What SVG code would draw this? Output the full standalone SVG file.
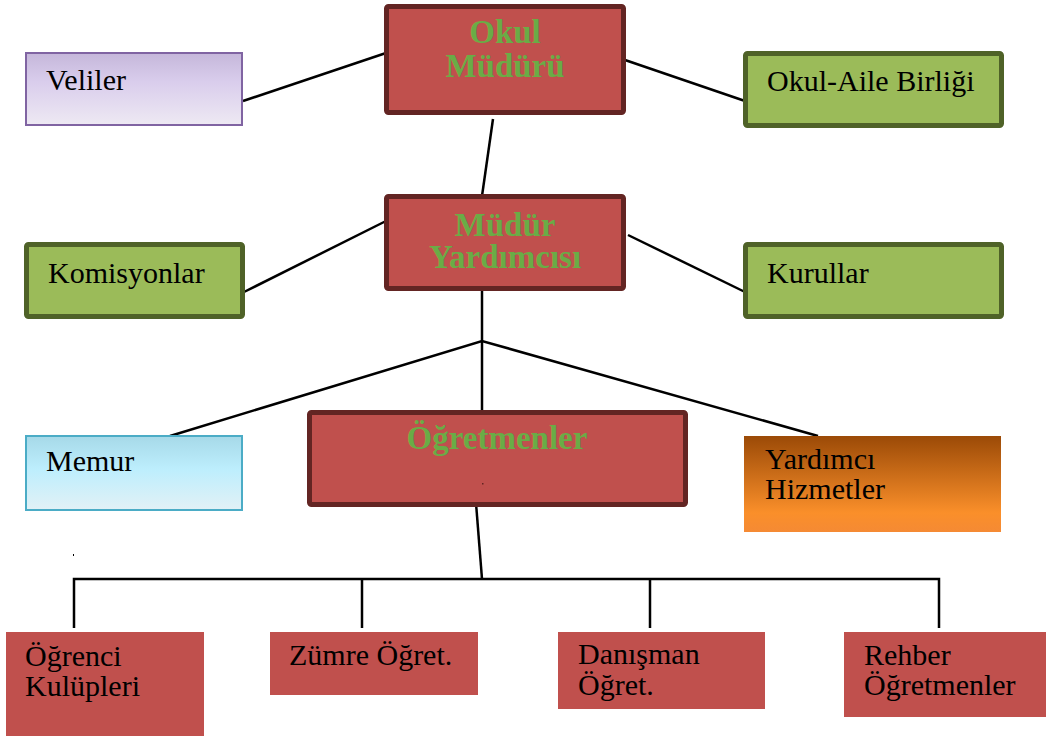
<svg xmlns="http://www.w3.org/2000/svg" width="1046" height="736" viewBox="0 0 1046 736">
<defs>
<linearGradient id="gLav" x1="0" y1="0" x2="0" y2="1">
<stop offset="0" stop-color="#c5b7da"/><stop offset="0.4" stop-color="#d9cdec"/><stop offset="1" stop-color="#eee9f3"/>
</linearGradient>
<linearGradient id="gBlue" x1="0" y1="0" x2="0" y2="1">
<stop offset="0" stop-color="#a6d9e8"/><stop offset="0.45" stop-color="#bdeefd"/><stop offset="1" stop-color="#e2f1f6"/>
</linearGradient>
<linearGradient id="gOrange" x1="0" y1="0" x2="0" y2="1">
<stop offset="0" stop-color="#9b4a07"/><stop offset="0.8" stop-color="#fa8f2a"/><stop offset="1" stop-color="#f58a34"/>
</linearGradient>
<style>
.main{fill:#c0504d;stroke:#632523;stroke-width:5}
.green{fill:#9bbb59;stroke:#4f6228;stroke-width:5}
.sub{fill:#c0504d}
.t{font-family:'Liberation Serif',serif;font-size:30px;fill:#000}
.h{font-family:'Liberation Serif',serif;font-size:33px;font-weight:bold;fill:#6aac46;text-anchor:middle}
.ln{stroke:#000;stroke-width:2.5;fill:none}
</style>
</defs>
<g id="connectors">
<line class="ln" x1="243" y1="101" x2="386" y2="53"/>
<line class="ln" x1="625" y1="60" x2="745" y2="101"/>
<line class="ln" x1="493" y1="119" x2="482" y2="196"/>
<line class="ln" x1="244" y1="292" x2="386" y2="221"/>
<line class="ln" x1="628" y1="235" x2="745" y2="292"/>
<line class="ln" x1="482" y1="270" x2="482" y2="411"/>
<polyline class="ln" points="170,436 482,341 818,436"/>
<line class="ln" x1="476" y1="503" x2="482" y2="579"/>
<polyline class="ln" points="74,628 74,579 939,579 939,628"/>
<line class="ln" x1="362" y1="579" x2="362" y2="628"/>
<line class="ln" x1="650" y1="579" x2="650" y2="628"/>
<rect x="73" y="554" width="1" height="2" fill="#000"/>
</g>
<g id="okul-muduru">
<rect class="main" x="386.5" y="6.5" width="237" height="106" rx="2"/>
<text class="h" x="505" y="43" font-family="Liberation Serif">Okul</text>
<text class="h" x="505" y="77" font-family="Liberation Serif">Müdürü</text>
</g>
<g id="veliler">
<rect x="26" y="53" width="216" height="72" fill="url(#gLav)" stroke="#8064a2" stroke-width="2"/>
<text class="t" x="46" y="90" font-family="Liberation Serif">Veliler</text>
</g>
<g id="okul-aile">
<rect class="green" x="745.5" y="53.5" width="256" height="72" rx="2"/>
<text class="t" x="767" y="91" font-family="Liberation Serif">Okul-Aile Birliği</text>
</g>
<g id="mudur-yardimcisi">
<rect class="main" x="386.5" y="196.5" width="237" height="92" rx="2"/>
<text class="h" x="505" y="236" font-family="Liberation Serif">Müdür</text>
<text class="h" x="505" y="268" font-family="Liberation Serif">Yardımcısı</text>
</g>
<g id="komisyonlar">
<rect class="green" x="26.5" y="244.5" width="216" height="72" rx="2"/>
<text class="t" x="48" y="283" font-family="Liberation Serif">Komisyonlar</text>
</g>
<g id="kurullar">
<rect class="green" x="745.5" y="244.5" width="256" height="72" rx="2"/>
<text class="t" x="767" y="283" font-family="Liberation Serif">Kurullar</text>
</g>
<g id="memur">
<rect x="26" y="436" width="216" height="74" fill="url(#gBlue)" stroke="#4bacc6" stroke-width="2"/>
<text class="t" x="46" y="471" font-family="Liberation Serif">Memur</text>
</g>
<g id="ogretmenler">
<rect class="main" x="309.5" y="412.5" width="376" height="92" rx="2"/>
<text class="h" x="497" y="449" font-family="Liberation Serif">Öğretmenler</text>
<rect x="482" y="483" width="1.5" height="1.5" fill="#632523"/>
</g>
<g id="yardimci-hizmetler">
<rect x="744" y="436" width="257" height="96" fill="url(#gOrange)"/>
<text class="t" x="765" y="469" font-family="Liberation Serif">Yardımcı</text>
<text class="t" x="765" y="499" font-family="Liberation Serif">Hizmetler</text>
</g>
<g id="ogrenci-kulupleri">
<rect class="sub" x="6" y="632" width="198" height="104"/>
<text class="t" x="25" y="666" font-family="Liberation Serif">Öğrenci</text>
<text class="t" x="25" y="696" font-family="Liberation Serif">Kulüpleri</text>
</g>
<g id="zumre">
<rect class="sub" x="270" y="632" width="208" height="63"/>
<text class="t" x="289" y="665" font-family="Liberation Serif">Zümre Öğret.</text>
</g>
<g id="danisman">
<rect class="sub" x="558" y="632" width="207" height="77"/>
<text class="t" x="578" y="664" font-family="Liberation Serif">Danışman</text>
<text class="t" x="578" y="695" font-family="Liberation Serif">Öğret.</text>
</g>
<g id="rehber">
<rect class="sub" x="844" y="632" width="202" height="85"/>
<text class="t" x="864" y="665" font-family="Liberation Serif">Rehber</text>
<text class="t" x="864" y="695" font-family="Liberation Serif">Öğretmenler</text>
</g>
</svg>
